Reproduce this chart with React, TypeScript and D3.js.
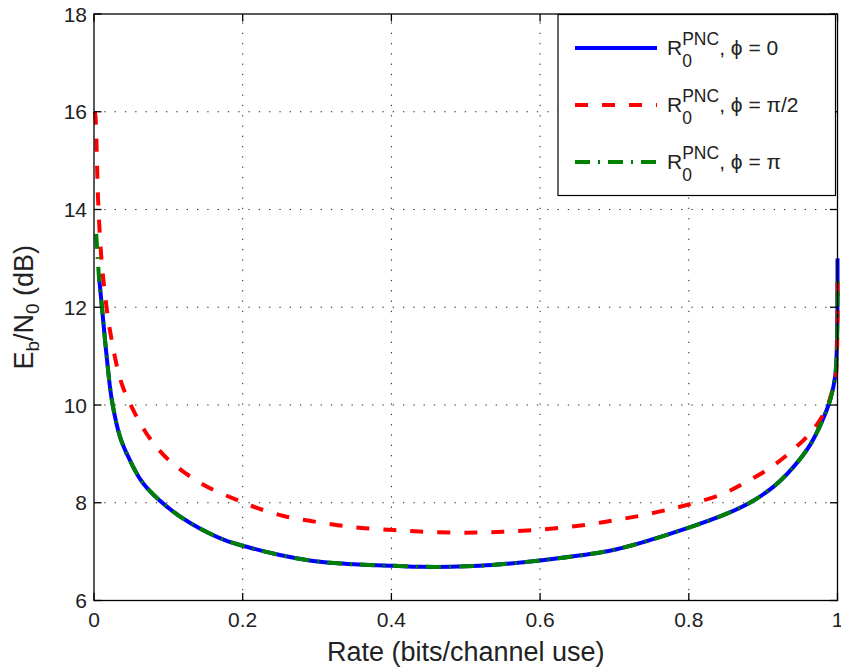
import React, { useEffect, useRef } from "react";
import * as d3 from "d3";

// rate values (bits/channel use) and Eb/N0 (dB)
const blueX = [0.0065, 0.011, 0.017, 0.024, 0.035, 0.048, 0.066, 0.098, 0.13, 0.175, 0.21, 0.25, 0.29, 0.328, 0.364, 0.403, 0.438, 0.48, 0.519, 0.555, 0.6, 0.667, 0.703, 0.74, 0.8, 0.847, 0.882, 0.914, 0.94, 0.963, 0.979, 0.99, 0.997, 0.9995, 1.0];
const blueY = [12.66, 11.95, 11.0, 10.1, 9.35, 8.88, 8.4, 7.92, 7.58, 7.24, 7.08, 6.93, 6.82, 6.76, 6.73, 6.71, 6.69, 6.69, 6.71, 6.75, 6.82, 6.95, 7.05, 7.2, 7.49, 7.75, 8.0, 8.33, 8.72, 9.18, 9.66, 10.1, 10.6, 11.5, 13.0];

const redX = [0.001, 0.002, 0.004, 0.0055, 0.009, 0.013, 0.022, 0.037, 0.055, 0.075, 0.098, 0.13, 0.161, 0.192, 0.22, 0.255, 0.29, 0.328, 0.364, 0.403, 0.438, 0.48, 0.519, 0.555, 0.59, 0.629, 0.667, 0.703, 0.74, 0.775, 0.806, 0.847, 0.878, 0.909, 0.94, 0.967, 0.985, 0.992, 0.997, 0.9995, 1.0];
const redY = [16.0, 15.9, 14.96, 14.2, 13.2, 12.5, 11.48, 10.45, 9.83, 9.32, 8.91, 8.53, 8.26, 8.06, 7.89, 7.73, 7.63, 7.54, 7.48, 7.44, 7.41, 7.39, 7.39, 7.41, 7.44, 7.49, 7.56, 7.65, 7.75, 7.87, 7.99, 8.19, 8.43, 8.71, 9.08, 9.49, 9.93, 10.24, 10.5, 11.2, 12.7];

const greenX = [0.003, 0.005, 0.0065, 0.011, 0.017, 0.024, 0.035, 0.048, 0.066, 0.098, 0.13, 0.175, 0.21, 0.25, 0.29, 0.328, 0.364, 0.403, 0.438, 0.48, 0.519, 0.555, 0.6, 0.667, 0.703, 0.74, 0.8, 0.847, 0.882, 0.914, 0.94, 0.963, 0.979, 0.99, 0.997, 0.9995, 1.0];
const greenY = [13.5, 13.0, 12.66, 11.95, 11.0, 10.1, 9.35, 8.88, 8.4, 7.92, 7.58, 7.24, 7.08, 6.93, 6.82, 6.76, 6.73, 6.71, 6.69, 6.69, 6.71, 6.75, 6.82, 6.95, 7.05, 7.2, 7.49, 7.75, 8.0, 8.33, 8.72, 9.18, 9.66, 10.1, 10.6, 11.4, 12.6];

const xTicks = [0, 0.2, 0.4, 0.6, 0.8, 1];
const xTickLabels = ["0", "0.2", "0.4", "0.6", "0.8", "1"];
const yTicks = [6, 8, 10, 12, 14, 16, 18];

const seriesNames = ["0", "\u03c0/2", "\u03c0"];

const FONT = "'Liberation Sans', Arial, Helvetica, sans-serif";

const App = () => {
  const ref = useRef<SVGSVGElement | null>(null);

  useEffect(() => {
    document.body.style.margin = "0";
    const width = 841;
    const height = 669;
    const left = 94;
    const right = 837.5;
    const top = 14;
    const bottom = 600.5;

    const x = d3.scaleLinear().domain([0, 1]).range([left, right]);
    const y = d3.scaleLinear().domain([6, 18]).range([bottom, top]);

    const svg = d3.select(ref.current);
    svg.selectAll("*").remove();
    svg.attr("width", width).attr("height", height).attr("viewBox", [0, 0, width, height]);

    svg.append("rect").attr("width", width).attr("height", height).attr("fill", "white");

    // grid
    const grid = svg.append("g").attr("stroke", "#222").attr("stroke-width", 1).attr("stroke-dasharray", "1.3 9");
    grid.selectAll("line.v").data(xTicks.slice(1, -1)).join("line")
      .attr("x1", (d) => x(d)).attr("x2", (d) => x(d)).attr("y1", bottom).attr("y2", top);
    grid.selectAll("line.h").data(yTicks.slice(1, -1)).join("line").attr("class", "h")
      .attr("y1", (d) => y(d)).attr("y2", (d) => y(d)).attr("x1", left).attr("x2", right);

    const series = [
      { xs: blueX, ys: blueY, color: "#0000ff", dash: null },
      { xs: redX, ys: redY, color: "#ff0000", dash: "13 14" },
      { xs: greenX, ys: greenY, color: "#008000", dash: "15 8 2 8" },
    ];

    const line = d3.line<[number, number]>()
      .x((d) => x(d[0]))
      .y((d) => y(d[1]))
      .curve(d3.curveCatmullRom.alpha(0.5));

    series.forEach((s) => {
      const pts: [number, number][] = s.xs.map((v, i) => [v, s.ys[i]]);
      svg.append("path")
        .attr("d", line(pts))
        .attr("fill", "none")
        .attr("stroke", s.color)
        .attr("stroke-width", 4)
        .attr("stroke-dasharray", s.dash);
    });

    // frame and inward ticks
    const axisG = svg.append("g").attr("stroke", "black").attr("stroke-width", 1.3);
    axisG.append("rect").attr("x", left).attr("y", top).attr("width", right - left).attr("height", bottom - top).attr("fill", "none");
    const tl = 7.5;
    xTicks.forEach((t) => {
      axisG.append("line").attr("x1", x(t)).attr("x2", x(t)).attr("y1", bottom).attr("y2", bottom - tl);
      axisG.append("line").attr("x1", x(t)).attr("x2", x(t)).attr("y1", top).attr("y2", top + tl);
    });
    yTicks.forEach((t) => {
      axisG.append("line").attr("y1", y(t)).attr("y2", y(t)).attr("x1", left).attr("x2", left + tl);
      axisG.append("line").attr("y1", y(t)).attr("y2", y(t)).attr("x1", right).attr("x2", right - tl);
    });

    // tick labels
    const tickFont = 21;
    svg.append("g").selectAll("text").data(xTicks).join("text")
      .attr("x", (d) => x(d)).attr("y", 627)
      .attr("text-anchor", "middle")
      .attr("font-family", FONT).attr("font-size", tickFont).attr("fill", "#222")
      .text((d, i) => xTickLabels[i]);
    svg.append("g").selectAll("text").data(yTicks).join("text")
      .attr("x", left - 7).attr("y", (d) => y(d) + 7.5)
      .attr("text-anchor", "end")
      .attr("font-family", FONT).attr("font-size", tickFont).attr("fill", "#222")
      .text((d) => String(d));

    // axis labels
    svg.append("text")
      .attr("x", (left + right) / 2).attr("y", 661)
      .attr("text-anchor", "middle")
      .attr("font-family", FONT).attr("font-size", 27).attr("fill", "#222")
      .text("Rate (bits/channel use)");

    const yl = svg.append("text")
      .attr("transform", `translate(33,${(top + bottom) / 2}) rotate(-90)`)
      .attr("text-anchor", "middle")
      .attr("font-family", FONT).attr("font-size", 27).attr("fill", "#222");
    yl.append("tspan").text("E");
    yl.append("tspan").attr("dy", 6).attr("font-size", 19).text("b");
    yl.append("tspan").attr("dy", -6).text("/N");
    yl.append("tspan").attr("dy", 6).attr("font-size", 19).text("0");
    yl.append("tspan").attr("dy", -6).text(" (dB)");

    // legend
    const lg = svg.append("g");
    lg.append("rect").attr("x", 558).attr("y", top + 0.5).attr("width", 277.5).attr("height", 181)
      .attr("fill", "white").attr("stroke", "black").attr("stroke-width", 1.2);
    const rows = [48, 105, 162];
    series.forEach((s, i) => {
      const ry = rows[i];
      lg.append("line").attr("x1", 575).attr("x2", 657).attr("y1", ry).attr("y2", ry)
        .attr("stroke", s.color).attr("stroke-width", 4).attr("stroke-dasharray", s.dash);
      const base = ry + 7;
      const r = lg.append("text").attr("x", 667).attr("y", base)
        .attr("font-family", FONT).attr("font-size", 21).attr("fill", "#222").text("R");
      const rw = (r.node() as SVGTextElement).getComputedTextLength();
      lg.append("text").attr("x", 667 + rw).attr("y", base + 11.5)
        .attr("font-family", FONT).attr("font-size", 17.5).attr("fill", "#222").text("0");
      const sup = lg.append("text").attr("x", 667 + rw).attr("y", base - 10.5)
        .attr("font-family", FONT).attr("font-size", 17.5).attr("fill", "#222").text("PNC");
      const sw = (sup.node() as SVGTextElement).getComputedTextLength();
      lg.append("text").attr("x", 667 + rw + sw).attr("y", base)
        .attr("font-family", FONT).attr("font-size", 21).attr("fill", "#222")
        .text(`, \u03d5 = ${seriesNames[i]}`);
    });
  }, []);

  return <svg ref={ref} style={{ display: "block" }} />;
};

export default App;
